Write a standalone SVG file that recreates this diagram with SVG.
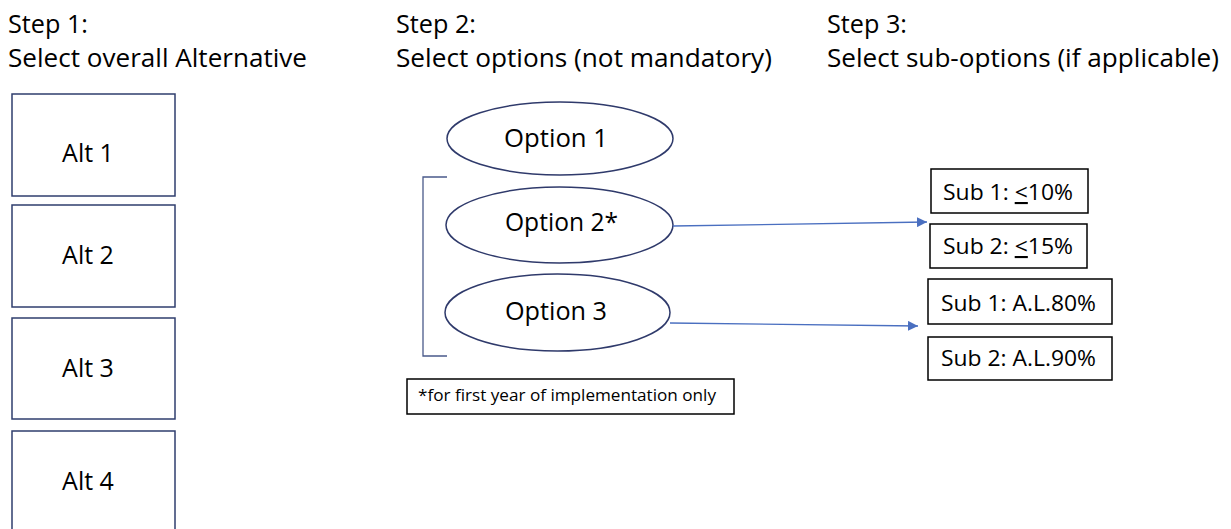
<svg xmlns="http://www.w3.org/2000/svg" width="1231" height="529" viewBox="0 0 1231 529">
<defs>
<style>
text{font-family:"Open Sans","Liberation Sans",sans-serif;fill:#000}
.h{font-size:26px}
.alt{fill:#fff;stroke:#2f3e6e;stroke-width:1.5}
.alttx{font-size:25px;text-anchor:middle}
.ell{fill:#fff;stroke:#2f3a6b;stroke-width:1.5}
.opt{font-size:25px}
.sub{fill:#fff;stroke:#000;stroke-width:1.5}
.subtx{font-size:21px}
.conn{stroke:#4a6fc0;stroke-width:1.3;fill:none}
</style>
<marker id="ah" viewBox="0 0 10 10" refX="10" refY="5" markerWidth="10" markerHeight="10" markerUnits="userSpaceOnUse" orient="auto">
<path d="M0,0 L10,5 L0,10 Z" fill="#4a6fc0"/>
</marker>
</defs>
<rect width="1231" height="529" fill="#fff"/>

<g id="headings">
<text class="h" x="8" y="33" textLength="80" lengthAdjust="spacingAndGlyphs">Step 1:</text>
<text class="h" x="8" y="67" textLength="299" lengthAdjust="spacingAndGlyphs">Select overall Alternative</text>
<text class="h" x="396" y="33" textLength="80" lengthAdjust="spacingAndGlyphs">Step 2:</text>
<text class="h" x="396" y="67" textLength="376" lengthAdjust="spacingAndGlyphs">Select options (not mandatory)</text>
<text class="h" x="827" y="33" textLength="80" lengthAdjust="spacingAndGlyphs">Step 3:</text>
<text class="h" x="827" y="67" textLength="392" lengthAdjust="spacingAndGlyphs">Select sub-options (if applicable)</text>
</g>

<g id="alt1"><rect class="alt" x="12" y="94" width="163" height="102"/><text class="alttx" x="88" y="162">Alt 1</text></g>
<g id="alt2"><rect class="alt" x="12" y="205" width="163" height="102"/><text class="alttx" x="88" y="264">Alt 2</text></g>
<g id="alt3"><rect class="alt" x="12" y="318" width="163" height="101"/><text class="alttx" x="88" y="377">Alt 3</text></g>
<g id="alt4"><rect class="alt" x="12" y="431" width="163" height="110"/><text class="alttx" x="88" y="490">Alt 4</text></g>

<g id="bracket"><path d="M447,177 L423,177 L423,356 L447,356" fill="none" stroke="#4a5a8a" stroke-width="1.3"/></g>

<g id="option1"><ellipse class="ell" cx="560" cy="138.5" rx="113" ry="36.5"/><text class="opt" x="504" y="147" textLength="104" lengthAdjust="spacingAndGlyphs">Option 1</text></g>
<g id="option2"><ellipse class="ell" cx="559.5" cy="225" rx="113.5" ry="38"/><text class="opt" x="505" y="231" textLength="113" lengthAdjust="spacingAndGlyphs">Option 2*</text></g>
<g id="option3"><ellipse class="ell" cx="557.5" cy="312.5" rx="112.5" ry="38.5"/><text class="opt" x="505" y="320" textLength="102" lengthAdjust="spacingAndGlyphs">Option 3</text></g>

<g id="footnote"><rect x="407" y="379" width="327" height="35" fill="#fff" stroke="#000" stroke-width="1.5"/><text x="418" y="401" font-size="16" textLength="298" lengthAdjust="spacingAndGlyphs">*for first year of implementation only</text></g>

<g id="sub1a"><rect class="sub" x="931" y="169" width="157" height="44"/><text class="subtx" x="943" y="200" textLength="130" lengthAdjust="spacingAndGlyphs">Sub 1: <tspan text-decoration="underline">&lt;</tspan>10%</text></g>
<g id="sub2a"><rect class="sub" x="930" y="224" width="157" height="44"/><text class="subtx" x="943" y="254" textLength="130" lengthAdjust="spacingAndGlyphs">Sub 2: <tspan text-decoration="underline">&lt;</tspan>15%</text></g>
<g id="sub1b"><rect class="sub" x="928" y="279" width="184" height="45"/><text class="subtx" x="941" y="311" textLength="155" lengthAdjust="spacingAndGlyphs">Sub 1: A.L.80%</text></g>
<g id="sub2b"><rect class="sub" x="928" y="337" width="184" height="43"/><text class="subtx" x="941" y="366" textLength="155" lengthAdjust="spacingAndGlyphs">Sub 2: A.L.90%</text></g>

<g id="connectors">
<path class="conn" d="M673,226 L927,222" marker-end="url(#ah)"/>
<path class="conn" d="M670,323 L918,326" marker-end="url(#ah)"/>
</g>
</svg>
